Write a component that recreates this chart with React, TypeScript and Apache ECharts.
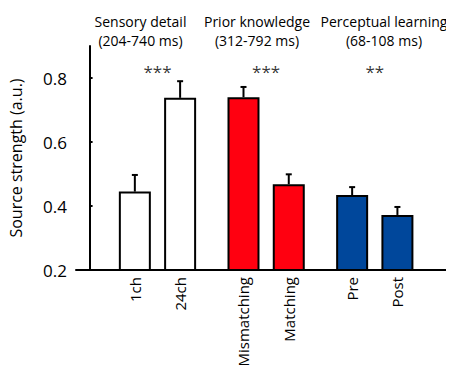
import React, { useEffect, useRef } from "react";
import * as echarts from "echarts";

const categories = ["1ch", "24ch", "Mismatching", "Matching", "Pre", "Post"];
const positions = [1, 2, 3.4, 4.4, 5.8, 6.8];
const means = [0.445, 0.738, 0.74, 0.468, 0.434, 0.372];
const errors = [0.052, 0.052, 0.032, 0.031, 0.025, 0.025];
const barColors = ["#FFFFFF", "#FFFFFF", "#FF0010", "#FF0010", "#00479B", "#00479B"];
const starLabels = ["***", "***", "**"];
const starPositions = [1.5, 3.9, 6.3];
const starLevel = 0.82;
const groupTitles = ["Sensory detail", "Prior knowledge", "Perceptual learning"];
const groupWindows = ["(204-740 ms)", "(312-792 ms)", "(68-108 ms)"];
const yTicks = [0.2, 0.4, 0.6, 0.8];

const FONT = "'Open Sans', sans-serif";

export default function App() {
  const ref = useRef<HTMLDivElement>(null);
  useEffect(() => {
    if (!ref.current) return;
    const chart = echarts.init(ref.current, null, { renderer: "svg" });
    const groupCenters = [140.5, 257, 384];
    const graphics: any[] = [];
    groupTitles.forEach((t, i) => {
      graphics.push({
        type: "text",
        x: groupCenters[i],
        y: 21,
        style: { text: t, font: `14px ${FONT}`, fill: "#000", align: "center", verticalAlign: "middle" },
      });
      graphics.push({
        type: "text",
        x: groupCenters[i],
        y: 40,
        style: { text: groupWindows[i], font: `14px ${FONT}`, fill: "#000", align: "center", verticalAlign: "middle" },
      });
    });
    chart.setOption({
      animation: false,
      grid: { left: 70, right: 0, top: 46, bottom: 107 },
      xAxis: {
        type: "value",
        min: -0.3,
        max: 8.05,
        splitLine: { show: false },
        axisLine: { show: true, lineStyle: { color: "#000", width: 2 } },
        axisTick: { show: false },
        axisLabel: {
          customValues: positions,
          rotate: 90,
          margin: 7,
          fontSize: 15,
          fontFamily: FONT,
          color: "#000",
          formatter: (v: number) => {
            let best = 0;
            positions.forEach((p, i) => {
              if (Math.abs(p - v) < Math.abs(positions[best] - v)) best = i;
            });
            return categories[best];
          },
        },
      },
      yAxis: {
        type: "value",
        min: 0.2,
        max: 0.9,
        interval: 0.2,
        name: "Source strength (a.u.)",
        nameLocation: "middle",
        nameGap: 52,
        nameTextStyle: { fontSize: 16, fontFamily: FONT, color: "#000" },
        splitLine: { show: false },
        axisLine: { show: true, lineStyle: { color: "#000", width: 2 } },
        axisTick: { show: true, inside: true, length: 3, customValues: [0.4, 0.6, 0.8], lineStyle: { color: "#000", width: 2 } },
        axisLabel: {
          customValues: yTicks,
          margin: 9,
          fontSize: 17,
          fontFamily: FONT,
          color: "#000",
          formatter: (v: number) => v.toFixed(1),
        },
      },
      graphic: graphics,
      series: [
        {
          type: "bar",
          barWidth: 32,
          data: positions.map((p, i) => ({
            value: [p, means[i]],
            itemStyle: { color: barColors[i], borderColor: "#000", borderWidth: 2 },
          })),
          z: 2,
        },
        {
          type: "custom",
          z: 3,
          data: positions.map((p, i) => [p, means[i], means[i] + errors[i]]),
          renderItem: (params: any, api: any) => {
            const x = api.value(0);
            const lo = api.coord([x, api.value(1)]);
            const hi = api.coord([x, api.value(2)]);
            return {
              type: "group",
              children: [
                { type: "line", shape: { x1: lo[0], y1: lo[1], x2: hi[0], y2: hi[1] }, style: { stroke: "#000", lineWidth: 2 } },
                { type: "line", shape: { x1: hi[0] - 3, y1: hi[1], x2: hi[0] + 3, y2: hi[1] }, style: { stroke: "#000", lineWidth: 2 } },
              ],
            };
          },
        },
        {
          type: "scatter",
          symbolSize: 2,
          itemStyle: { color: "rgba(0,0,0,0)" },
          data: starPositions.map((p, i) => ({ value: [p, starLevel], name: starLabels[i] })),
          label: {
            show: true,
            position: "inside",
            formatter: (p: any) => p.name,
            fontSize: 17,
            fontFamily: FONT,
            color: "#000",
          },
        },
      ],
    });
    return () => chart.dispose();
  }, []);
  return <div ref={ref} style={{ width: 454, height: 377, margin: -8 }} />;
}
